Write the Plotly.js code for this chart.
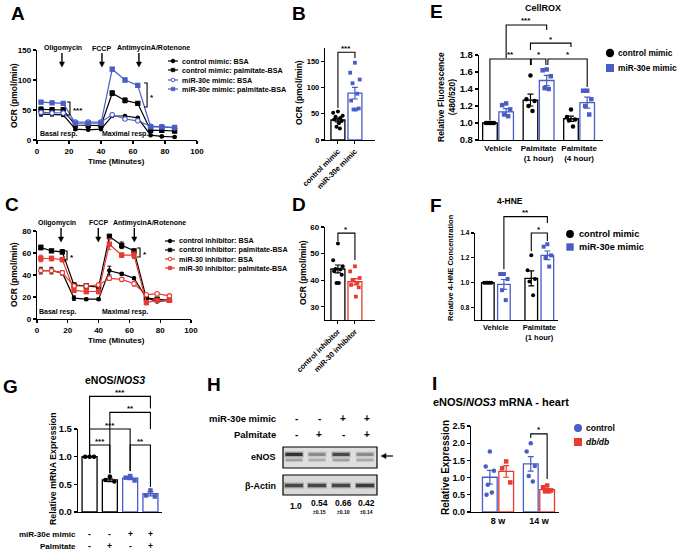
<!DOCTYPE html>
<html><head><meta charset="utf-8">
<script src="https://cdn.plot.ly/plotly-3.0.1.min.js"></script>
<style>html,body{margin:0;padding:0;background:#fff}#chart{width:677px;height:554px}</style>
</head><body><div id="chart"></div>
<script>
// ================= DATA =================
// Panel A (Seahorse OCR, mimic)
const timeMin = [2.5, 9.4, 16.4, 24, 32, 40, 47, 55, 63, 71, 78, 86];
const aCtrlBSA = [43, 43, 42, 18, 17, 18, 40, 40, 37, 8, 6, 5];
const aCtrlBSAErr = [3, 3, 3, 2, 1, 1, 1, 1, 1, 1, 1, 1];
const aCtrlPalm = [51, 50, 50, 25, 24, 24, 78, 66, 61, 16, 16, 15];
const aCtrlPalmErr = [4, 4, 4, 2, 2, 2, 4, 4, 2, 2, 2, 2];
const aMirBSA = [46, 45, 45, 30, 30, 30, 42, 35, 32, 23, 22, 20];
const aMirBSAErr = [2, 2, 2, 1, 1, 1, 1, 1, 1, 1, 1, 1];
const aMirPalm = [63, 62, 61, 28, 28, 28, 118, 100, 91, 22, 22, 21];
const aMirPalmErr = [2, 2, 2, 2, 2, 2, 3, 3, 3, 2, 2, 2];
const aLegend = ['control mimic: BSA', 'control mimic: palmitate-BSA', 'miR-30e mimic: BSA', 'miR-30e mimic: palmitate-BSA'];
// Panel C (Seahorse OCR, inhibitor)
const cCtrlBSA = [44, 44, 42, 19, 18, 18, 44, 41, 37, 19, 16, 17];
const cCtrlBSAErr = [3, 3, 2, 2, 1, 1, 4, 1, 1, 1, 1, 1];
const cCtrlPalm = [65, 62, 61, 31, 30, 29, 75, 67, 62, 19, 18, 17];
const cCtrlPalmErr = [2, 1, 2, 1, 1, 1, 2, 3, 1, 1, 1, 1];
const cMirBSA = [44, 44, 42, 30, 30, 31, 37, 36, 32, 22, 23, 21];
const cMirBSAErr = [2, 2, 2, 1, 1, 1, 2, 1, 2, 1, 1, 1];
const cMirPalm = [55, 55, 54, 26, 25, 25, 68, 58, 58, 15, 17, 17];
const cMirPalmErr = [3, 2, 2, 2, 2, 2, 5, 2, 3, 2, 1, 1];
const cLegend = ['control inhibitor: BSA', 'control inhibitor: palmitate-BSA', 'miR-30 inhibitor: BSA', 'miR-30 inhibitor: palmitate-BSA'];
const injections = ['Oligomycin', 'FCCP', 'AntimycinA/Rotenone'];
// Panel B
const bCats = ['control mimic', 'miR-30e mimic'];
const bMeans = [38, 89];
const bSem = [3.5, 11];
const bCtrlDots = [54, 52, 46, 44, 42, 39, 36, 32, 25, 22];
const bMirDots = [147, 128, 115, 108, 88, 75, 60, 58, 58];
// Panel D
const dCats = ['control inhibitor', 'miR-30 inhibitor'];
const dMeans = [44.2, 39.4];
const dSem = [1.5, 1.2];
const dCtrlDots = [53.8, 47.5, 45.2, 44.2, 44, 43.3, 42, 38.9, 38.9];
const dMirDots = [45.2, 43.3, 40.8, 40.1, 38.9, 38.2, 37.3, 33.8];
// Panel E (CellROX)
const eCats = ['Vehicle', 'Palmitate<br>(1 hour)', 'Palmitate<br>(4 hour)'];
const eCtrlMeans = [1.0, 1.27, 1.05];
const eCtrlSem = [0.004, 0.07, 0.03];
const eMirMeans = [1.13, 1.50, 1.24];
const eMirSem = [0.04, 0.06, 0.065];
const eCtrlDots = [[1, 1, 1, 1, 1], [1.56, 1.28, 1.26, 1.20, 1.14], [1.16, 1.07, 1.04, 1.03, 0.96]];
const eMirDots = [[1.23, 1.21, 1.16, 1.10, 1.08], [1.63, 1.62, 1.55, 1.41, 1.40], [1.38, 1.38, 1.28, 1.20, 1.10]];
// Panel F (4-HNE)
const fCats = ['Vehicle', 'Palmitate<br>(1 hour)'];
const fCtrlMeans = [1.0, 1.035];
const fCtrlSem = [0.003, 0.06];
const fMirMeans = [0.986, 1.22];
const fMirSem = [0.04, 0.035];
const fCtrlDots = [[1, 1, 1, 1, 1], [1.22, 1.10, 1.03, 1.01, 0.90]];
const fMirDots = [[1.07, 1.07, 1.03, 0.94, 0.86], [1.31, 1.29, 1.22, 1.20, 1.13]];
// Panel G (eNOS/NOS3 mRNA)
const gMeans = [1.0, 0.58, 0.61, 0.33];
const gSem = [0.004, 0.03, 0.025, 0.04];
const gDots = [[1, 1, 1], [0.64, 0.58, 0.55], [0.65, 0.62, 0.57], [0.39, 0.30, 0.28]];
const gMimic = ['-', '-', '+', '+'];
const gPalm = ['-', '+', '-', '+'];
// Panel H (western blot)
const hMimic = ['-', '-', '+', '+'];
const hPalm = ['-', '+', '-', '+'];
const hRatio = ['1.0', '0.54', '0.66', '0.42'];
const hSd = ['', '±0.15', '±0.10', '±0.14'];
const hEnosUpper = [0.85, 0.35, 0.70, 0.35];
const hEnosLower = [0.45, 0.35, 0.45, 0.38];
const hActin = [0.70, 0.72, 0.72, 0.78];
// Panel I (heart eNOS)
const iCats = ['8 w', '14 w'];
const iCtrlMeans = [1.01, 1.40];
const iCtrlSem = [0.20, 0.21];
const iDbMeans = [1.18, 0.65];
const iDbSem = [0.17, 0.03];
const iCtrlDots = [[1.76, 1.32, 1.20, 0.79, 0.57, 0.50], [2.0, 1.76, 1.34, 1.05, 0.89]];
const iDbDots = [[1.47, 1.27, 0.86], [0.77, 0.72, 0.63, 0.60, 0.60]];

// ================= STYLE / GEOMETRY =================
const W = 677, H = 554;
const FONT = 'Liberation Sans, Arial, sans-serif';
const BLACK = '#000000', BLUE = '#4a5cc6', RED = '#e63b2e';
const px = x => x / W;
const py = y => 1 - y / H;
const GEO = {
  A: {x0: 37, x1: 197, y0: 50, y1: 140, xr: [0, 100], yr: [0, 150]},
  B: {x0: 325, x1: 375, y0: 48, y1: 140, xr: [-0.76, 2.18], yr: [0, 175]},
  C: {x0: 37, x1: 191, y0: 231, y1: 319, xr: [0, 100], yr: [0, 80]},
  D: {x0: 325, x1: 375, y0: 227, y1: 320, xr: [-0.76, 2.18], yr: [25, 60]},
  E: {x0: 479, x1: 603, y0: 55, y1: 140, xr: [-0.47, 2.59], yr: [0.8, 1.8]},
  F: {x0: 475, x1: 558, y0: 233, y1: 320, xr: [-0.48, 1.43], yr: [0.7, 1.4]},
  G: {x0: 78, x1: 162, y0: 429, y1: 512, xr: [-0.57, 3.57], yr: [0, 1.5]},
  I: {x0: 471, x1: 559, y0: 426, y1: 512, xr: [-0.66, 1.49], yr: [0, 2.5]}
};
const toPX = (p, v) => { const g = GEO[p]; return g.x0 + (v - g.xr[0]) / (g.xr[1] - g.xr[0]) * (g.x1 - g.x0); };
const toPY = (p, v) => { const g = GEO[p]; return g.y1 - (v - g.yr[0]) / (g.yr[1] - g.yr[0]) * (g.y1 - g.y0); };
const tf = (size, extra) => Object.assign({family: FONT, size: size, color: '#000', weight: 700}, extra || {});

const layout = {
  width: W, height: H, margin: {l: 0, r: 0, t: 0, b: 0},
  paper_bgcolor: '#ffffff', plot_bgcolor: 'rgba(0,0,0,0)',
  showlegend: false, barmode: 'overlay', font: {family: FONT, color: '#000'},
  annotations: [], shapes: []
};
function axisPair(n, p, xo, yo) {
  const g = GEO[p]; const s = n === 1 ? '' : String(n);
  const base = {showgrid: false, zeroline: false, showline: true, linecolor: '#000', linewidth: 1.2,
    ticks: 'outside', ticklen: 3, tickwidth: 1.1, tickcolor: '#000', fixedrange: true, automargin: false};
  layout['xaxis' + s] = Object.assign({}, base, {domain: [px(g.x0), px(g.x1)], range: g.xr, anchor: 'y' + s}, xo);
  layout['yaxis' + s] = Object.assign({}, base, {domain: [py(g.y1), py(g.y0)], range: g.yr, anchor: 'x' + s}, yo);
}
axisPair(1, 'A', {tickvals: [0, 20, 40, 60, 80, 100], tickfont: tf(8)}, {tickvals: [0, 50, 100, 150], tickfont: tf(8)});
axisPair(2, 'B', {tickvals: [0, 1], ticktext: bCats, tickangle: -45, tickfont: tf(7.5)}, {tickvals: [0, 50, 100, 150], tickfont: tf(7.5)});
axisPair(3, 'C', {tickvals: [0, 20, 40, 60, 80, 100], tickfont: tf(8)}, {tickvals: [0, 20, 40, 60, 80], tickfont: tf(8)});
axisPair(4, 'D', {tickvals: [0, 1], ticktext: dCats, tickangle: -45, tickfont: tf(7.5)}, {tickvals: [30, 40, 50, 60], tickfont: tf(8)});
axisPair(5, 'E', {tickvals: [0, 1, 2], ticktext: eCats, ticks: '', tickfont: tf(8)}, {tickvals: [0.8, 1.0, 1.2, 1.4, 1.6, 1.8], tickformat: '.1f', tickfont: tf(9.5)});
axisPair(6, 'F', {tickvals: [0, 1], ticktext: fCats, ticks: '', tickfont: tf(7.5)}, {tickvals: [0.8, 1.0, 1.2, 1.4], tickformat: '.1f', tickfont: tf(6.5)});
axisPair(7, 'G', {showticklabels: false, ticks: ''}, {tickvals: [0, 0.5, 1.0, 1.5], tickformat: '.1f', tickfont: tf(9.5)});
axisPair(8, 'I', {tickvals: [0, 1], ticktext: iCats, ticks: '', tickfont: tf(9)}, {tickvals: [0, 0.5, 1, 1.5, 2, 2.5], tickformat: '.1f', tickfont: tf(9)});

// ================= HELPERS =================
const traces = [];
const ann = layout.annotations, shp = layout.shapes;
function txt(x, y, text, size, opts) {
  ann.push(Object.assign({xref: 'paper', yref: 'paper', x: px(x), y: py(y), text: text, showarrow: false,
    font: tf(size), xanchor: 'center', yanchor: 'middle', borderpad: 0}, opts || {}));
}
function seg(x0, y0, x1, y1, color, w) {
  shp.push({type: 'line', xref: 'paper', yref: 'paper', x0: px(x0), y0: py(y0), x1: px(x1), y1: py(y1), line: {color: color, width: w}});
}
function pathPx(pts, color, w, fill) {
  const d = pts.map((p, i) => (i ? 'L' : 'M') + px(p[0]) + ',' + py(p[1])).join(' ') + (fill ? ' Z' : '');
  shp.push({type: 'path', xref: 'paper', yref: 'paper', path: d, line: {color: color, width: w}, fillcolor: fill || 'rgba(0,0,0,0)'});
}
function rectPx(x0, y0, x1, y1, fill, lineColor, lw) {
  shp.push({type: 'rect', xref: 'paper', yref: 'paper', x0: px(x0), x1: px(x1), y0: py(y1), y1: py(y0), fillcolor: fill, line: {color: lineColor || 'rgba(0,0,0,0)', width: lw || 0}});
}
function circPx(x, y, r, fill, lineColor, lw) {
  shp.push({type: 'circle', xref: 'paper', yref: 'paper', x0: px(x - r), x1: px(x + r), y0: py(y + r), y1: py(y - r), fillcolor: fill, line: {color: lineColor || fill, width: lw || 0}});
}
function downArrow(x, yTail, yTip) {
  seg(x, yTail, x, yTip - 4, '#000', 1.4);
  pathPx([[x - 2.6, yTip - 5], [x + 2.6, yTip - 5], [x, yTip]], '#000', 0.5, '#000');
}
// data bracket for bar charts
function bracket(p, xl, xr, yTop, yl, yr, label) {
  const X1 = toPX(p, xl), X2 = toPX(p, xr), YT = toPY(p, yTop);
  pathPx([[X1, toPY(p, yl)], [X1, YT], [X2, YT], [X2, toPY(p, yr)]], '#000', 1.1);
  txt((X1 + X2) / 2, YT - 4, label, 8);
}
// "]" bracket for line charts
function sideBracket(p, xv, y1, y2, label) {
  const X = toPX(p, xv), Y1 = toPY(p, y1), Y2 = toPY(p, y2);
  pathPx([[X - 3, Y1], [X, Y1], [X, Y2], [X - 3, Y2]], '#000', 1.1);
  txt(X + 2, (Y1 + Y2) / 2 + 2, label, 8, {xanchor: 'left'});
}
const OFFS = [0, -1, 1, -0.5, 0.5, -0.8, 0.8, 0.2, -0.3, 0.4];
function lineTrace(n, x, y, err, color, symbol, size, fill) {
  const s = n === 1 ? '' : String(n);
  traces.push({type: 'scatter', mode: 'lines+markers', x: x, y: y, xaxis: 'x' + s, yaxis: 'y' + s,
    line: {color: color, width: 1.2},
    marker: {symbol: symbol, size: size, color: fill || color, line: {color: color, width: 1.1}},
    error_y: {type: 'data', array: err, color: color, thickness: 1, width: 2},
    showlegend: false, hoverinfo: 'skip', cliponaxis: false});
}
function barTrace(n, x, y, err, color, width) {
  const s = String(n);
  traces.push({type: 'bar', x: x, y: y, width: width, xaxis: 'x' + s, yaxis: 'y' + s,
    marker: {color: '#ffffff', line: {color: color, width: 1.3}},
    error_y: {type: 'data', array: err, color: color, thickness: 1.2, width: 3},
    showlegend: false, hoverinfo: 'skip'});
}
function dotTrace(n, center, vals, color, symbol, size, spread) {
  const s = String(n);
  traces.push({type: 'scatter', mode: 'markers', xaxis: 'x' + s, yaxis: 'y' + s,
    x: vals.map((v, i) => center + spread * OFFS[i % OFFS.length]), y: vals,
    marker: {symbol: symbol, size: size, color: color, line: {width: 0}},
    showlegend: false, hoverinfo: 'skip', cliponaxis: false});
}
function lineLegend(x, y, labels, styles) {
  labels.forEach((lab, i) => {
    const yy = y[i], st = styles[i];
    seg(x, yy, x + 10, yy, st.c, 1.2);
    if (st.sym === 'circle') circPx(x + 5, yy, 1.8, st.fill, st.c, 1);
    else rectPx(x + 3.2, yy - 1.8, x + 6.8, yy + 1.8, st.c, st.c, 0.5);
    txt(x + 13, yy, lab, 7.2, {xanchor: 'left'});
  });
}

// ================= PANEL A =================
lineTrace(1, timeMin, aCtrlBSA, aCtrlBSAErr, BLACK, 'circle', 3.5);
lineTrace(1, timeMin, aCtrlPalm, aCtrlPalmErr, BLACK, 'square', 4.2);
lineTrace(1, timeMin, aMirBSA, aMirBSAErr, BLUE, 'circle', 4.5, '#ffffff');
lineTrace(1, timeMin, aMirPalm, aMirPalmErr, BLUE, 'square', 4.2);
[15.6, 40.6, 63.7].forEach(t => downArrow(toPX('A', t), 53, 67));
txt(62.5, 48, injections[0], 7); txt(101.5, 48, injections[1], 7); txt(153, 48, injections[2], 7);
txt(39, 134, 'Basal resp.', 7, {xanchor: 'left'});
txt(125, 134, 'Maximal resp.', 7);
sideBracket('A', 20.6, 63.3, 41.7, '***');
sideBracket('A', 68.8, 95, 55, '*');
lineLegend(168, [61, 70, 80, 89], aLegend, [{c: BLACK, sym: 'circle', fill: BLACK}, {c: BLACK, sym: 'square'}, {c: BLUE, sym: 'circle', fill: '#ffffff'}, {c: BLUE, sym: 'square'}]);
txt(14, 96, 'OCR (pmol/min)', 8.5, {textangle: -90});
txt(117, 161, 'Time (Minutes)', 8);

// ================= PANEL C =================
lineTrace(3, timeMin, cCtrlBSA, cCtrlBSAErr, BLACK, 'circle', 3.5);
lineTrace(3, timeMin, cCtrlPalm, cCtrlPalmErr, BLACK, 'square', 4.2);
lineTrace(3, timeMin, cMirBSA, cMirBSAErr, RED, 'circle', 4.5, '#ffffff');
lineTrace(3, timeMin, cMirPalm, cMirPalmErr, RED, 'square', 4.2);
[15.6, 39.8, 63.2].forEach(t => downArrow(toPX('C', t), 228, 242));
txt(57, 223, injections[0], 7); txt(98, 223, injections[1], 7); txt(149, 223, injections[2], 7);
txt(38, 312, 'Basal resp.', 7, {xanchor: 'left'});
txt(125, 312, 'Maximal resp.', 7);
sideBracket('C', 19.5, 61.8, 53.6, '*');
sideBracket('C', 66.9, 64.5, 56.4, '*');
lineLegend(165, [241, 250, 259, 268], cLegend, [{c: BLACK, sym: 'circle', fill: BLACK}, {c: BLACK, sym: 'square'}, {c: RED, sym: 'circle', fill: '#ffffff'}, {c: RED, sym: 'square'}]);
txt(14, 275, 'OCR (pmol/min)', 8.5, {textangle: -90});
txt(117, 340, 'Time (Minutes)', 8);

// ================= PANEL B =================
barTrace(2, [0], [bMeans[0]], [bSem[0]], BLACK, 0.82);
barTrace(2, [1], [bMeans[1]], [bSem[1]], BLUE, 0.82);
dotTrace(2, 0, bCtrlDots, BLACK, 'circle', 4, 0.28);
dotTrace(2, 1, bMirDots, BLUE, 'square', 3.8, 0.28);
bracket('B', 0, 1, 167, 61, 156, '***');
txt(299, 93, 'OCR (pmol/min)', 8.5, {textangle: -90});

// ================= PANEL D =================
barTrace(4, [0], [dMeans[0]], [dSem[0]], BLACK, 0.82);
barTrace(4, [1], [dMeans[1]], [dSem[1]], RED, 0.82);
dotTrace(4, 0, dCtrlDots, BLACK, 'circle', 4, 0.28);
dotTrace(4, 1, dMirDots, RED, 'square', 3.8, 0.28);
bracket('D', 0, 1, 57.7, 54.6, 47.6, '*');
txt(303, 273, 'OCR (pmol/min)', 8.5, {textangle: -90});

// ================= PANEL E =================
const eOff = 0.2;
barTrace(5, [0, 1, 2].map(i => i - eOff), eCtrlMeans, eCtrlSem, BLACK, 0.36);
barTrace(5, [0, 1, 2].map(i => i + eOff), eMirMeans, eMirSem, BLUE, 0.36);
eCtrlDots.forEach((d, i) => dotTrace(5, i - eOff, d, BLACK, 'circle', 4.5, 0.1));
eMirDots.forEach((d, i) => dotTrace(5, i + eOff, d, BLUE, 'square', 4.5, 0.1));
bracket('E', 0.2, 1.2, 2.153, 1.765, 2.094, '***');
bracket('E', 0.8, 1.8, 1.94, 1.859, 1.894, '*');
bracket('E', -0.2, 0.8, 1.753, 1.03, 1.682, '**');
bracket('E', 0.82, 1.18, 1.753, 1.682, 1.682, '*');
bracket('E', 1.23, 2.2, 1.753, 1.682, 1.424, '*');
txt(543, 8, 'CellROX', 9);
circPx(610, 53, 4.2, BLACK);
rectPx(606, 64, 614, 72, BLUE);
txt(617, 53, 'control mimic', 8.3, {xanchor: 'left'});
txt(617, 68, 'miR-30e mimic', 8.3, {xanchor: 'left'});
txt(446, 97, 'Relative Fluorescence<br>(480/520)', 8.5, {textangle: -90});

// ================= PANEL F =================
const fOff = 0.185;
barTrace(6, [0, 1].map(i => i - fOff), fCtrlMeans, fCtrlSem, BLACK, 0.29);
barTrace(6, [0, 1].map(i => i + fOff), fMirMeans, fMirSem, BLUE, 0.29);
fCtrlDots.forEach((d, i) => dotTrace(6, i - fOff, d, BLACK, 'circle', 4, 0.085));
fMirDots.forEach((d, i) => dotTrace(6, i + fOff, d, BLUE, 'square', 4, 0.085));
bracket('F', 0.185, 1.185, 1.532, 1.108, 1.481, '**');
bracket('F', 0.815, 1.185, 1.40, 1.254, 1.335, '*');
txt(510, 201, '4-HNE', 8.5);
circPx(570, 234, 3.9, BLACK);
rectPx(566.3, 243.3, 573.7, 250.7, BLUE);
txt(578, 234, 'control mimic', 9.2, {xanchor: 'left'});
txt(578, 247, 'miR-30e mimic', 9.2, {xanchor: 'left'});
txt(450, 268, 'Relative 4-HNE Concentration', 7.5, {textangle: -90});

// ================= PANEL G =================
const gColors = [BLACK, BLACK, BLUE, BLUE];
const gSym = ['circle', 'circle', 'square', 'square'];
gMeans.forEach((m, i) => barTrace(7, [i], [m], [gSem[i]], gColors[i], 0.74));
gDots.forEach((d, i) => dotTrace(7, i, d, gColors[i], gSym[i], 4.5, 0.22));
bracket('G', 0, 3, 2.09, 1.03, 1.87, '***');
bracket('G', 1, 3, 1.80, 0.70, 1.50, '**');
bracket('G', 0, 2, 1.50, 1.03, 0.74, '***');
bracket('G', 0, 1, 1.21, 1.03, 0.70, '***');
bracket('G', 2, 3, 1.21, 0.74, 0.45, '**');
txt(115, 380, 'eNOS/<i>NOS3</i>', 10.5);
txt(53, 468, 'Relative mRNA Expression', 8.8, {textangle: -90});
txt(77, 534, 'miR-30e mimic', 8, {xanchor: 'right'});
txt(77, 546, 'Palmitate', 8, {xanchor: 'right'});
gMimic.forEach((s, i) => txt(toPX('G', i), 534, s, 8.5));
gPalm.forEach((s, i) => txt(toPX('G', i), 546, s, 8.5));

// ================= PANEL H (blot) =================
const hLanes = [294, 317, 341, 365];
txt(277, 418, 'miR-30e mimic', 9.5, {xanchor: 'right'});
txt(277, 434, 'Palmitate', 9.5, {xanchor: 'right'});
hMimic.forEach((s, i) => txt(hLanes[i] + 2, 418, s, 10));
hPalm.forEach((s, i) => txt(hLanes[i] + 2, 434, s, 10));
rectPx(283, 447, 377, 468, '#dedede', '#000', 1.2);
rectPx(283, 475, 377, 495, '#d8d8d8', '#000', 1.2);
hEnosUpper.forEach((a, i) => {
  rectPx(hLanes[i] - 9.5, 451.5, hLanes[i] + 9.5, 457.5, 'rgba(30,30,30,' + (a * 0.35) + ')');
  rectPx(hLanes[i] - 8.5, 452.8, hLanes[i] + 8.5, 456, 'rgba(30,30,30,' + a + ')');
});
hEnosLower.forEach((a, i) => {
  rectPx(hLanes[i] - 8.5, 458.5, hLanes[i] + 8.5, 461.5, 'rgba(50,50,50,' + (a * 0.8) + ')');
});
hActin.forEach((a, i) => {
  rectPx(hLanes[i] - 10, 482.5, hLanes[i] + 10, 488.5, 'rgba(30,30,30,' + (a * 0.35) + ')');
  rectPx(hLanes[i] - 9, 483.8, hLanes[i] + 9, 487.2, 'rgba(30,30,30,' + a + ')');
});
txt(277, 457, 'eNOS', 9, {xanchor: 'right'});
txt(277, 486, 'β-Actin', 9, {xanchor: 'right'});
seg(386, 456, 393, 456, '#000', 1.2);
pathPx([[381, 456], [386, 453.5], [386, 458.5]], '#000', 0.5, '#000');
hRatio.forEach((r, i) => txt(hLanes[i] + 2, i === 0 ? 506 : 503, r, 8.5));
hSd.forEach((r, i) => { if (r) txt(hLanes[i] + 2, 512, r, 5); });

// ================= PANEL I =================
const iOff = 0.2;
barTrace(8, [0, 1].map(i => i - iOff), iCtrlMeans, iCtrlSem, BLUE, 0.36);
barTrace(8, [0, 1].map(i => i + iOff), iDbMeans, iDbSem, RED, 0.36);
iCtrlDots.forEach((d, i) => dotTrace(8, i - iOff, d, BLUE, 'circle', 4.5, 0.1));
iDbDots.forEach((d, i) => dotTrace(8, i + iOff, d, RED, 'square', 4.5, 0.1));
bracket('I', 0.8, 1.2, 2.27, 2.15, 0.96, '*');
txt(432, 402, 'eNOS/<i>NOS3</i> mRNA - heart', 11, {xanchor: 'left'});
txt(445, 468, 'Relative Expression', 10, {textangle: -90});
circPx(578, 428, 4, BLUE);
rectPx(574, 438, 582, 446, RED);
txt(585, 428, 'control', 8.5, {xanchor: 'left'});
txt(585, 442, '<i>db/db</i>', 8.5, {xanchor: 'left'});

// ================= PANEL LETTERS =================
[['A', 18, 13], ['B', 299, 13], ['C', 12, 204], ['D', 299, 204], ['E', 436, 12], ['F', 436, 206], ['G', 10, 386], ['H', 214, 384], ['I', 434, 383]]
  .forEach(l => txt(l[1], l[2], l[0], 19));

Plotly.newPlot('chart', traces, layout, {staticPlot: true, displayModeBar: false});
</script>
</body></html>
